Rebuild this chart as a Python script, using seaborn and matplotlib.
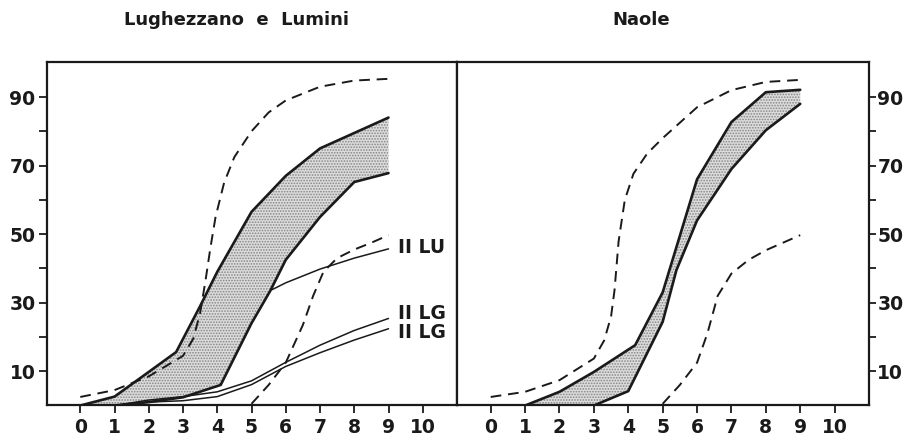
import numpy as np
import pandas as pd
import matplotlib
matplotlib.use("Agg")
import matplotlib.pyplot as plt
import seaborn as sns

sns.set_theme(style="white")
plt.rcParams['font.family'] = ['DejaVu Sans']
plt.rcParams['hatch.linewidth'] = 0.8

# ---------------- data ----------------
titles = ["Lughezzano  e  Lumini", "Naole"]
x_ticks = [0, 1, 2, 3, 4, 5, 6, 7, 8, 9, 10]
y_ticks = [10, 20, 30, 40, 50, 60, 70, 80, 90]
y_labels = ["10", "", "30", "", "50", "", "70", "", "90"]

# Left panel: Lughezzano e Lumini
L_band_up_x = [0, 1, 2, 2.8, 3.5, 4, 5, 6, 7, 8, 9]
L_band_up_y = [0, 2.6, 9.8, 15.6, 29, 39, 56.5, 67, 75, 79.5, 84]
L_band_lo_x = [1, 2, 3, 4.1, 5, 5.55, 6, 7, 8, 9]
L_band_lo_y = [0, 1, 2.4, 6, 24, 33.5, 42.5, 55, 65.2, 67.8]
L_dash_a_x = [0, 1, 2, 3, 3.3, 3.5, 3.65, 3.8, 3.95, 4.2, 4.5, 5, 5.5, 6, 7, 8, 9]
L_dash_a_y = [2.5, 4.5, 8.5, 14.5, 19.5, 27, 36, 46, 55, 65, 72.5, 80, 85.5, 89, 93, 94.8, 95.3]
L_dash_b_x = [5, 5.5, 6, 6.5, 6.8, 7.1, 7.5, 8, 8.5, 9]
L_dash_b_y = [0.5, 6, 12.5, 23.5, 32, 39, 43, 45.5, 47.5, 49.7]
L_LU_x = [5.6, 6, 7, 8, 9]
L_LU_y = [33.8, 35.8, 39.8, 43, 45.7]
L_LG1_x = [1, 2, 3, 4, 5, 6, 7, 8, 9]
L_LG1_y = [0, 1.6, 2.6, 4, 7.2, 12.6, 17.6, 21.9, 25.4]
L_LG2_x = [1, 2, 3, 4, 5, 6, 7, 8, 9]
L_LG2_y = [0, 1, 1.4, 2.6, 6.1, 11.4, 15.4, 19.1, 22.4]
L_labels = ["II LU", "II LG", "II LG"]
L_label_y = [46, 26.8, 21.3]

# Right panel: Naole
N_band_up_x = [1, 2, 3, 4.2, 5, 6, 7, 8, 9]
N_band_up_y = [0, 4, 9.8, 17.6, 33, 66, 82.7, 91.4, 92.1]
N_band_lo_x = [3, 4, 5, 5.4, 6, 7, 8, 9]
N_band_lo_y = [0, 4.2, 24.4, 39.5, 54, 69, 80.3, 88]
N_dash_a_x = [0, 1, 2, 3, 3.3, 3.5, 3.6, 3.72, 3.9, 4.15, 4.55, 5, 6, 7, 8, 9]
N_dash_a_y = [2.5, 4, 7.4, 13.7, 19, 26, 33.6, 48, 60, 67.6, 73.5, 78, 87, 92, 94.4, 95]
N_dash_b_x = [5, 5.5, 6, 6.3, 6.6, 7, 7.5, 8, 8.5, 9]
N_dash_b_y = [0.5, 6, 12.5, 21, 32, 38.5, 42.5, 45.3, 47.5, 49.7]

# ---------------- figure ----------------
W, H = 904, 437
fig = plt.figure(figsize=(W / 100, H / 100), dpi=100)
axL = fig.add_axes([46.7 / W, 1 - 404.5 / H, (457 - 46.7) / W, (404.5 - 61.7) / H])
axR = fig.add_axes([457 / W, 1 - 404.5 / H, (869 - 457) / W, (404.5 - 61.7) / H])

INK = "#1a1a1a"
BAND_LW = 1.9
THIN_LW = 1.1
DASH_LW = 1.4
DASHES = (5.5, 3.5)
TICK_FS = 13.5


def line(ax, xs, ys, lw, dashed=False):
    df = pd.DataFrame({"x": xs, "y": ys})
    sns.lineplot(data=df, x="x", y="y", ax=ax, color=INK, lw=lw,
                 estimator=None, sort=False,
                 linestyle=(0, DASHES) if dashed else "-")


def band(ax, ux, uy, lx, ly):
    px = list(ux) + list(lx[::-1])
    py = list(uy) + list(ly[::-1])
    ax.fill(px, py, facecolor="#dcdcdc", edgecolor="#858585", linewidth=0,
            hatch="......", zorder=1)


band(axL, L_band_up_x, L_band_up_y, L_band_lo_x, L_band_lo_y)
line(axL, L_band_up_x, L_band_up_y, BAND_LW)
line(axL, L_band_lo_x, L_band_lo_y, BAND_LW)
line(axL, L_LU_x, L_LU_y, THIN_LW)
line(axL, L_LG1_x, L_LG1_y, THIN_LW)
line(axL, L_LG2_x, L_LG2_y, THIN_LW)
line(axL, L_dash_a_x, L_dash_a_y, DASH_LW, dashed=True)
line(axL, L_dash_b_x, L_dash_b_y, DASH_LW, dashed=True)
for lab, yy in zip(L_labels, L_label_y):
    axL.text(9.27, yy, lab, fontsize=TICK_FS, fontweight="bold", ha="left",
             va="center", color=INK)

band(axR, N_band_up_x, N_band_up_y, N_band_lo_x, N_band_lo_y)
line(axR, N_band_up_x, N_band_up_y, BAND_LW)
line(axR, N_band_lo_x, N_band_lo_y, BAND_LW)
line(axR, N_dash_a_x, N_dash_a_y, DASH_LW, dashed=True)
line(axR, N_dash_b_x, N_dash_b_y, DASH_LW, dashed=True)

for ax in (axL, axR):
    ax.set_xlim(-0.98, 11.0)
    ax.set_ylim(0.3, 100.3)
    ax.set_xlabel("")
    ax.set_ylabel("")
    ax.set_xticks(x_ticks)
    ax.set_xticklabels([str(t) for t in x_ticks])
    for s in ax.spines.values():
        s.set_visible(True)
        s.set_color(INK)
        s.set_linewidth(1.6)
    ax.tick_params(axis="x", direction="out", length=6, width=1.3, pad=4,
                   labelsize=TICK_FS, colors=INK, bottom=True)
    for lbl in ax.get_xticklabels():
        lbl.set_fontweight("bold")
    ax.grid(False)

axL.set_yticks(y_ticks)
axL.set_yticklabels(y_labels)
axL.tick_params(axis="y", direction="out", length=6, width=1.3, pad=2,
                labelsize=TICK_FS, colors=INK, left=True, right=False)
for lbl in axL.get_yticklabels():
    lbl.set_fontweight("bold")

axR.yaxis.tick_right()
axR.set_yticks(y_ticks)
axR.set_yticklabels(y_labels)
axR.tick_params(axis="y", direction="out", length=5, width=1.3, pad=1,
                labelsize=TICK_FS, colors=INK, left=False, right=True,
                labelleft=False, labelright=True)
for lbl in axR.get_yticklabels():
    lbl.set_fontweight("bold")

fig.text(236 / W, 1 - 20 / H, titles[0], fontsize=13, fontweight="bold",
         ha="center", va="center", color=INK)
fig.text(641 / W, 1 - 20 / H, titles[1], fontsize=13, fontweight="bold",
         ha="center", va="center", color=INK)

fig.savefig("out.png", dpi=100, facecolor="white")
